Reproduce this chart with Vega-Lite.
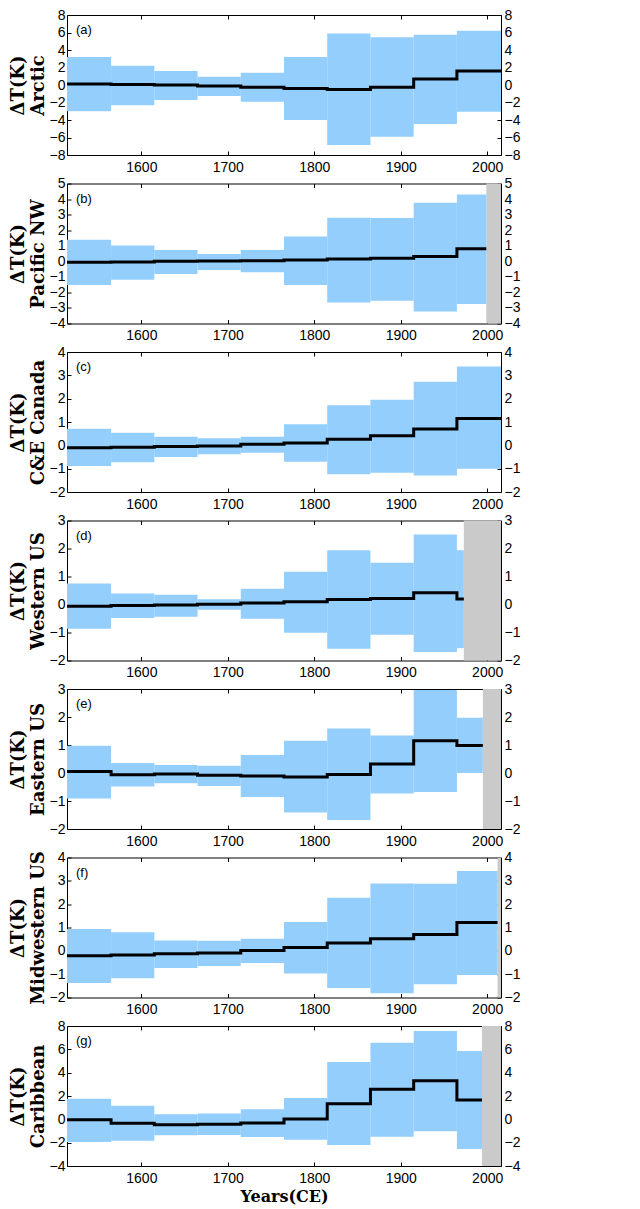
{
  "$schema": "https://vega.github.io/schema/vega-lite/v6.json",
  "padding": {"left": 9, "top": 8, "right": 5, "bottom": 2},
  "background": "white",
  "datasets": {
    "bins": [
      {"p":"a","s":1514,"e":1565,"lo":-3.0,"hi":3.2,"m":0.12},
      {"p":"a","s":1565,"e":1615,"lo":-2.3,"hi":2.2,"m":0.05},
      {"p":"a","s":1615,"e":1665,"lo":-1.7,"hi":1.6,"m":0.0},
      {"p":"a","s":1665,"e":1715,"lo":-1.25,"hi":0.95,"m":-0.1},
      {"p":"a","s":1715,"e":1765,"lo":-1.9,"hi":1.4,"m":-0.25},
      {"p":"a","s":1765,"e":1815,"lo":-4.0,"hi":3.2,"m":-0.4},
      {"p":"a","s":1815,"e":1865,"lo":-6.85,"hi":5.9,"m":-0.5},
      {"p":"a","s":1865,"e":1915,"lo":-5.9,"hi":5.45,"m":-0.25},
      {"p":"a","s":1915,"e":1965,"lo":-4.45,"hi":5.75,"m":0.7},
      {"p":"a","s":1965,"e":2016,"lo":-3.05,"hi":6.2,"m":1.6},
      {"p":"b","s":1514,"e":1565,"lo":-1.53,"hi":1.38,"m":-0.06},
      {"p":"b","s":1565,"e":1615,"lo":-1.19,"hi":1.01,"m":-0.04},
      {"p":"b","s":1615,"e":1665,"lo":-0.82,"hi":0.73,"m":0.0},
      {"p":"b","s":1665,"e":1715,"lo":-0.56,"hi":0.47,"m":0.02},
      {"p":"b","s":1715,"e":1765,"lo":-0.71,"hi":0.73,"m":0.04},
      {"p":"b","s":1765,"e":1815,"lo":-1.53,"hi":1.6,"m":0.08},
      {"p":"b","s":1815,"e":1865,"lo":-2.65,"hi":2.8,"m":0.15},
      {"p":"b","s":1865,"e":1915,"lo":-2.54,"hi":2.78,"m":0.19},
      {"p":"b","s":1915,"e":1965,"lo":-3.23,"hi":3.77,"m":0.3},
      {"p":"b","s":1965,"e":1999,"lo":-2.74,"hi":4.29,"m":0.8},
      {"p":"c","s":1514,"e":1565,"lo":-0.89,"hi":0.71,"m":-0.1},
      {"p":"c","s":1565,"e":1615,"lo":-0.72,"hi":0.54,"m":-0.08},
      {"p":"c","s":1615,"e":1665,"lo":-0.5,"hi":0.37,"m":-0.05},
      {"p":"c","s":1665,"e":1715,"lo":-0.38,"hi":0.3,"m":-0.03},
      {"p":"c","s":1715,"e":1765,"lo":-0.32,"hi":0.37,"m":0.05},
      {"p":"c","s":1765,"e":1815,"lo":-0.7,"hi":0.9,"m":0.1},
      {"p":"c","s":1815,"e":1865,"lo":-1.24,"hi":1.72,"m":0.26},
      {"p":"c","s":1865,"e":1915,"lo":-1.18,"hi":1.95,"m":0.41},
      {"p":"c","s":1915,"e":1965,"lo":-1.29,"hi":2.72,"m":0.7},
      {"p":"c","s":1965,"e":2016,"lo":-1.0,"hi":3.38,"m":1.15},
      {"p":"d","s":1514,"e":1565,"lo":-0.87,"hi":0.75,"m":-0.06},
      {"p":"d","s":1565,"e":1615,"lo":-0.48,"hi":0.39,"m":-0.04},
      {"p":"d","s":1615,"e":1665,"lo":-0.44,"hi":0.35,"m":-0.02},
      {"p":"d","s":1665,"e":1715,"lo":-0.19,"hi":0.19,"m":0.01},
      {"p":"d","s":1715,"e":1765,"lo":-0.51,"hi":0.56,"m":0.05},
      {"p":"d","s":1765,"e":1815,"lo":-1.01,"hi":1.17,"m":0.1},
      {"p":"d","s":1815,"e":1865,"lo":-1.58,"hi":1.94,"m":0.18},
      {"p":"d","s":1865,"e":1915,"lo":-1.08,"hi":1.49,"m":0.21},
      {"p":"d","s":1915,"e":1965,"lo":-1.7,"hi":2.5,"m":0.42},
      {"p":"d","s":1965,"e":1973,"lo":-1.56,"hi":1.94,"m":0.2},
      {"p":"e","s":1514,"e":1565,"lo":-0.91,"hi":0.97,"m":0.05},
      {"p":"e","s":1565,"e":1615,"lo":-0.48,"hi":0.36,"m":-0.06},
      {"p":"e","s":1615,"e":1665,"lo":-0.37,"hi":0.29,"m":-0.04},
      {"p":"e","s":1665,"e":1715,"lo":-0.46,"hi":0.26,"m":-0.08},
      {"p":"e","s":1715,"e":1765,"lo":-0.86,"hi":0.64,"m":-0.11},
      {"p":"e","s":1765,"e":1815,"lo":-1.41,"hi":1.15,"m":-0.14},
      {"p":"e","s":1815,"e":1865,"lo":-1.68,"hi":1.59,"m":-0.05},
      {"p":"e","s":1865,"e":1915,"lo":-0.73,"hi":1.34,"m":0.32},
      {"p":"e","s":1915,"e":1965,"lo":-0.68,"hi":2.96,"m":1.15},
      {"p":"e","s":1965,"e":1995,"lo":0.0,"hi":1.97,"m":0.98},
      {"p":"f","s":1514,"e":1565,"lo":-1.38,"hi":0.94,"m":-0.21},
      {"p":"f","s":1565,"e":1615,"lo":-1.17,"hi":0.8,"m":-0.18},
      {"p":"f","s":1615,"e":1665,"lo":-0.74,"hi":0.44,"m":-0.13},
      {"p":"f","s":1665,"e":1715,"lo":-0.65,"hi":0.43,"m":-0.09},
      {"p":"f","s":1715,"e":1765,"lo":-0.52,"hi":0.52,"m":0.01},
      {"p":"f","s":1765,"e":1815,"lo":-0.97,"hi":1.24,"m":0.14},
      {"p":"f","s":1815,"e":1865,"lo":-1.59,"hi":2.28,"m":0.34},
      {"p":"f","s":1865,"e":1915,"lo":-1.82,"hi":2.89,"m":0.52},
      {"p":"f","s":1915,"e":1965,"lo":-1.43,"hi":2.87,"m":0.7},
      {"p":"f","s":1965,"e":2012,"lo":-1.04,"hi":3.42,"m":1.21},
      {"p":"g","s":1514,"e":1565,"lo":-1.94,"hi":1.77,"m":-0.03},
      {"p":"g","s":1565,"e":1615,"lo":-1.83,"hi":1.17,"m":-0.34},
      {"p":"g","s":1615,"e":1665,"lo":-1.37,"hi":0.43,"m":-0.46},
      {"p":"g","s":1665,"e":1715,"lo":-1.34,"hi":0.49,"m":-0.43},
      {"p":"g","s":1715,"e":1765,"lo":-1.51,"hi":0.86,"m":-0.31},
      {"p":"g","s":1765,"e":1815,"lo":-1.74,"hi":1.83,"m":0.03},
      {"p":"g","s":1815,"e":1865,"lo":-2.2,"hi":4.91,"m":1.34},
      {"p":"g","s":1865,"e":1915,"lo":-1.49,"hi":6.57,"m":2.57},
      {"p":"g","s":1915,"e":1965,"lo":-1.03,"hi":7.57,"m":3.31},
      {"p":"g","s":1965,"e":1994,"lo":-2.54,"hi":5.86,"m":1.66}
    ],
    "grey": [
      {"p":"b","g":1999},
      {"p":"d","g":1973},
      {"p":"e","g":1995},
      {"p":"f","g":2012},
      {"p":"g","g":1994}
    ]
  },
  "vconcat": [
    {
      "width": 434, "height": 140,
      "layer": [
        {"data": {"name": "bins"}, "transform": [{"filter": "datum.p === 'a'"}],
         "mark": {"type": "rect", "color": "#93cefc"},
         "encoding": {
           "x": {"field": "s", "type": "quantitative", "scale": {"domain": [1514, 2016], "nice": false, "zero": false}, "axis": {"orient": "bottom", "values": [1600,1700,1800,1900,2000], "format": "d", "title": null, "labelPadding": 9}},
           "x2": {"field": "e"},
           "y": {"field": "lo", "type": "quantitative", "scale": {"domain": [-8, 8], "nice": false, "zero": false}, "axis": {"orient": "left", "values": [-8,-6,-4,-2,0,2,4,6,8], "title": ["ΔT(K)", "Arctic"]}},
           "y2": {"field": "hi"}}},
        {"data": {"name": "bins"}, "transform": [{"filter": "datum.p === 'a'"}, {"fold": ["s","e"], "as": ["k","yr"]}],
         "mark": {"type": "line", "color": "black", "strokeWidth": 3},
         "encoding": {
           "x": {"field": "yr", "type": "quantitative", "scale": {"domain": [1514, 2016], "nice": false, "zero": false}, "axis": {"orient": "top", "values": [1600,1700,1800,1900,2000], "labels": false, "title": null}},
           "y": {"field": "m", "type": "quantitative", "scale": {"domain": [-8, 8], "nice": false, "zero": false}, "axis": {"orient": "right", "values": [-8,-6,-4,-2,0,2,4,6,8], "title": null, "labelPadding": 7}},
           "order": [{"field": "s"}, {"field": "k", "sort": "descending"}]}},
        {"data": {"values": [{}]},
         "mark": {"type": "text", "align": "left", "baseline": "top", "dx": 9, "dy": 9, "fontSize": 13, "font": "Liberation Sans"},
         "encoding": {"x": {"datum": 1514, "type": "quantitative", "scale": {"domain": [1514, 2016], "nice": false, "zero": false}, "axis": null}, "y": {"datum": 8, "type": "quantitative", "scale": {"domain": [-8, 8], "nice": false, "zero": false}, "axis": null}, "text": {"value": "(a)"}}}
      ],
      "resolve": {"axis": {"x": "independent", "y": "independent"}}
    },
    {
      "width": 434, "height": 140,
      "layer": [
        {"data": {"name": "grey"}, "transform": [{"filter": "datum.p === 'b'"}],
         "mark": {"type": "rect", "color": "#cacaca"},
         "encoding": {
           "x": {"field": "g", "type": "quantitative", "scale": {"domain": [1514, 2016], "nice": false, "zero": false}, "axis": null},
           "x2": {"datum": 2016},
           "y": {"datum": -4, "type": "quantitative", "scale": {"domain": [-4, 5], "nice": false, "zero": false}, "axis": null},
           "y2": {"datum": 5}}},
        {"data": {"name": "bins"}, "transform": [{"filter": "datum.p === 'b'"}],
         "mark": {"type": "rect", "color": "#93cefc"},
         "encoding": {
           "x": {"field": "s", "type": "quantitative", "scale": {"domain": [1514, 2016], "nice": false, "zero": false}, "axis": {"orient": "bottom", "values": [1600,1700,1800,1900,2000], "format": "d", "title": null, "labelPadding": 9}},
           "x2": {"field": "e"},
           "y": {"field": "lo", "type": "quantitative", "scale": {"domain": [-4, 5], "nice": false, "zero": false}, "axis": {"orient": "left", "values": [-4,-3,-2,-1,0,1,2,3,4,5], "title": ["ΔT(K)", "Pacific NW"]}},
           "y2": {"field": "hi"}}},
        {"data": {"name": "bins"}, "transform": [{"filter": "datum.p === 'b'"}, {"fold": ["s","e"], "as": ["k","yr"]}],
         "mark": {"type": "line", "color": "black", "strokeWidth": 3},
         "encoding": {
           "x": {"field": "yr", "type": "quantitative", "scale": {"domain": [1514, 2016], "nice": false, "zero": false}, "axis": {"orient": "top", "values": [1600,1700,1800,1900,2000], "labels": false, "title": null}},
           "y": {"field": "m", "type": "quantitative", "scale": {"domain": [-4, 5], "nice": false, "zero": false}, "axis": {"orient": "right", "values": [-4,-3,-2,-1,0,1,2,3,4,5], "title": null, "labelPadding": 7}},
           "order": [{"field": "s"}, {"field": "k", "sort": "descending"}]}},
        {"data": {"values": [{}]},
         "mark": {"type": "text", "align": "left", "baseline": "top", "dx": 9, "dy": 9, "fontSize": 13, "font": "Liberation Sans"},
         "encoding": {"x": {"datum": 1514, "type": "quantitative", "scale": {"domain": [1514, 2016], "nice": false, "zero": false}, "axis": null}, "y": {"datum": 5, "type": "quantitative", "scale": {"domain": [-4, 5], "nice": false, "zero": false}, "axis": null}, "text": {"value": "(b)"}}}
      ],
      "resolve": {"axis": {"x": "independent", "y": "independent"}}
    },
    {
      "width": 434, "height": 140,
      "layer": [
        {"data": {"name": "bins"}, "transform": [{"filter": "datum.p === 'c'"}],
         "mark": {"type": "rect", "color": "#93cefc"},
         "encoding": {
           "x": {"field": "s", "type": "quantitative", "scale": {"domain": [1514, 2016], "nice": false, "zero": false}, "axis": {"orient": "bottom", "values": [1600,1700,1800,1900,2000], "format": "d", "title": null, "labelPadding": 9}},
           "x2": {"field": "e"},
           "y": {"field": "lo", "type": "quantitative", "scale": {"domain": [-2, 4], "nice": false, "zero": false}, "axis": {"orient": "left", "values": [-2,-1,0,1,2,3,4], "title": ["ΔT(K)", "C&E Canada"]}},
           "y2": {"field": "hi"}}},
        {"data": {"name": "bins"}, "transform": [{"filter": "datum.p === 'c'"}, {"fold": ["s","e"], "as": ["k","yr"]}],
         "mark": {"type": "line", "color": "black", "strokeWidth": 3},
         "encoding": {
           "x": {"field": "yr", "type": "quantitative", "scale": {"domain": [1514, 2016], "nice": false, "zero": false}, "axis": {"orient": "top", "values": [1600,1700,1800,1900,2000], "labels": false, "title": null}},
           "y": {"field": "m", "type": "quantitative", "scale": {"domain": [-2, 4], "nice": false, "zero": false}, "axis": {"orient": "right", "values": [-2,-1,0,1,2,3,4], "title": null, "labelPadding": 7}},
           "order": [{"field": "s"}, {"field": "k", "sort": "descending"}]}},
        {"data": {"values": [{}]},
         "mark": {"type": "text", "align": "left", "baseline": "top", "dx": 9, "dy": 9, "fontSize": 13, "font": "Liberation Sans"},
         "encoding": {"x": {"datum": 1514, "type": "quantitative", "scale": {"domain": [1514, 2016], "nice": false, "zero": false}, "axis": null}, "y": {"datum": 4, "type": "quantitative", "scale": {"domain": [-2, 4], "nice": false, "zero": false}, "axis": null}, "text": {"value": "(c)"}}}
      ],
      "resolve": {"axis": {"x": "independent", "y": "independent"}}
    },
    {
      "width": 434, "height": 140,
      "layer": [
        {"data": {"name": "grey"}, "transform": [{"filter": "datum.p === 'd'"}],
         "mark": {"type": "rect", "color": "#cacaca"},
         "encoding": {
           "x": {"field": "g", "type": "quantitative", "scale": {"domain": [1514, 2016], "nice": false, "zero": false}, "axis": null},
           "x2": {"datum": 2016},
           "y": {"datum": -2, "type": "quantitative", "scale": {"domain": [-2, 3], "nice": false, "zero": false}, "axis": null},
           "y2": {"datum": 3}}},
        {"data": {"name": "bins"}, "transform": [{"filter": "datum.p === 'd'"}],
         "mark": {"type": "rect", "color": "#93cefc"},
         "encoding": {
           "x": {"field": "s", "type": "quantitative", "scale": {"domain": [1514, 2016], "nice": false, "zero": false}, "axis": {"orient": "bottom", "values": [1600,1700,1800,1900,2000], "format": "d", "title": null, "labelPadding": 9}},
           "x2": {"field": "e"},
           "y": {"field": "lo", "type": "quantitative", "scale": {"domain": [-2, 3], "nice": false, "zero": false}, "axis": {"orient": "left", "values": [-2,-1,0,1,2,3], "title": ["ΔT(K)", "Western US"]}},
           "y2": {"field": "hi"}}},
        {"data": {"name": "bins"}, "transform": [{"filter": "datum.p === 'd'"}, {"fold": ["s","e"], "as": ["k","yr"]}],
         "mark": {"type": "line", "color": "black", "strokeWidth": 3},
         "encoding": {
           "x": {"field": "yr", "type": "quantitative", "scale": {"domain": [1514, 2016], "nice": false, "zero": false}, "axis": {"orient": "top", "values": [1600,1700,1800,1900,2000], "labels": false, "title": null}},
           "y": {"field": "m", "type": "quantitative", "scale": {"domain": [-2, 3], "nice": false, "zero": false}, "axis": {"orient": "right", "values": [-2,-1,0,1,2,3], "title": null, "labelPadding": 7}},
           "order": [{"field": "s"}, {"field": "k", "sort": "descending"}]}},
        {"data": {"values": [{}]},
         "mark": {"type": "text", "align": "left", "baseline": "top", "dx": 9, "dy": 9, "fontSize": 13, "font": "Liberation Sans"},
         "encoding": {"x": {"datum": 1514, "type": "quantitative", "scale": {"domain": [1514, 2016], "nice": false, "zero": false}, "axis": null}, "y": {"datum": 3, "type": "quantitative", "scale": {"domain": [-2, 3], "nice": false, "zero": false}, "axis": null}, "text": {"value": "(d)"}}}
      ],
      "resolve": {"axis": {"x": "independent", "y": "independent"}}
    },
    {
      "width": 434, "height": 140,
      "layer": [
        {"data": {"name": "grey"}, "transform": [{"filter": "datum.p === 'e'"}],
         "mark": {"type": "rect", "color": "#cacaca"},
         "encoding": {
           "x": {"field": "g", "type": "quantitative", "scale": {"domain": [1514, 2016], "nice": false, "zero": false}, "axis": null},
           "x2": {"datum": 2016},
           "y": {"datum": -2, "type": "quantitative", "scale": {"domain": [-2, 3], "nice": false, "zero": false}, "axis": null},
           "y2": {"datum": 3}}},
        {"data": {"name": "bins"}, "transform": [{"filter": "datum.p === 'e'"}],
         "mark": {"type": "rect", "color": "#93cefc"},
         "encoding": {
           "x": {"field": "s", "type": "quantitative", "scale": {"domain": [1514, 2016], "nice": false, "zero": false}, "axis": {"orient": "bottom", "values": [1600,1700,1800,1900,2000], "format": "d", "title": null, "labelPadding": 9}},
           "x2": {"field": "e"},
           "y": {"field": "lo", "type": "quantitative", "scale": {"domain": [-2, 3], "nice": false, "zero": false}, "axis": {"orient": "left", "values": [-2,-1,0,1,2,3], "title": ["ΔT(K)", "Eastern US"]}},
           "y2": {"field": "hi"}}},
        {"data": {"name": "bins"}, "transform": [{"filter": "datum.p === 'e'"}, {"fold": ["s","e"], "as": ["k","yr"]}],
         "mark": {"type": "line", "color": "black", "strokeWidth": 3},
         "encoding": {
           "x": {"field": "yr", "type": "quantitative", "scale": {"domain": [1514, 2016], "nice": false, "zero": false}, "axis": {"orient": "top", "values": [1600,1700,1800,1900,2000], "labels": false, "title": null}},
           "y": {"field": "m", "type": "quantitative", "scale": {"domain": [-2, 3], "nice": false, "zero": false}, "axis": {"orient": "right", "values": [-2,-1,0,1,2,3], "title": null, "labelPadding": 7}},
           "order": [{"field": "s"}, {"field": "k", "sort": "descending"}]}},
        {"data": {"values": [{}]},
         "mark": {"type": "text", "align": "left", "baseline": "top", "dx": 9, "dy": 9, "fontSize": 13, "font": "Liberation Sans"},
         "encoding": {"x": {"datum": 1514, "type": "quantitative", "scale": {"domain": [1514, 2016], "nice": false, "zero": false}, "axis": null}, "y": {"datum": 3, "type": "quantitative", "scale": {"domain": [-2, 3], "nice": false, "zero": false}, "axis": null}, "text": {"value": "(e)"}}}
      ],
      "resolve": {"axis": {"x": "independent", "y": "independent"}}
    },
    {
      "width": 434, "height": 140,
      "layer": [
        {"data": {"name": "grey"}, "transform": [{"filter": "datum.p === 'f'"}],
         "mark": {"type": "rect", "color": "#cacaca"},
         "encoding": {
           "x": {"field": "g", "type": "quantitative", "scale": {"domain": [1514, 2016], "nice": false, "zero": false}, "axis": null},
           "x2": {"datum": 2016},
           "y": {"datum": -2, "type": "quantitative", "scale": {"domain": [-2, 4], "nice": false, "zero": false}, "axis": null},
           "y2": {"datum": 4}}},
        {"data": {"name": "bins"}, "transform": [{"filter": "datum.p === 'f'"}],
         "mark": {"type": "rect", "color": "#93cefc"},
         "encoding": {
           "x": {"field": "s", "type": "quantitative", "scale": {"domain": [1514, 2016], "nice": false, "zero": false}, "axis": {"orient": "bottom", "values": [1600,1700,1800,1900,2000], "format": "d", "title": null, "labelPadding": 9}},
           "x2": {"field": "e"},
           "y": {"field": "lo", "type": "quantitative", "scale": {"domain": [-2, 4], "nice": false, "zero": false}, "axis": {"orient": "left", "values": [-2,-1,0,1,2,3,4], "title": ["ΔT(K)", "Midwestern US"]}},
           "y2": {"field": "hi"}}},
        {"data": {"name": "bins"}, "transform": [{"filter": "datum.p === 'f'"}, {"fold": ["s","e"], "as": ["k","yr"]}],
         "mark": {"type": "line", "color": "black", "strokeWidth": 3},
         "encoding": {
           "x": {"field": "yr", "type": "quantitative", "scale": {"domain": [1514, 2016], "nice": false, "zero": false}, "axis": {"orient": "top", "values": [1600,1700,1800,1900,2000], "labels": false, "title": null}},
           "y": {"field": "m", "type": "quantitative", "scale": {"domain": [-2, 4], "nice": false, "zero": false}, "axis": {"orient": "right", "values": [-2,-1,0,1,2,3,4], "title": null, "labelPadding": 7}},
           "order": [{"field": "s"}, {"field": "k", "sort": "descending"}]}},
        {"data": {"values": [{}]},
         "mark": {"type": "text", "align": "left", "baseline": "top", "dx": 9, "dy": 9, "fontSize": 13, "font": "Liberation Sans"},
         "encoding": {"x": {"datum": 1514, "type": "quantitative", "scale": {"domain": [1514, 2016], "nice": false, "zero": false}, "axis": null}, "y": {"datum": 4, "type": "quantitative", "scale": {"domain": [-2, 4], "nice": false, "zero": false}, "axis": null}, "text": {"value": "(f)"}}}
      ],
      "resolve": {"axis": {"x": "independent", "y": "independent"}}
    },
    {
      "width": 434, "height": 140,
      "layer": [
        {"data": {"name": "grey"}, "transform": [{"filter": "datum.p === 'g'"}],
         "mark": {"type": "rect", "color": "#cacaca"},
         "encoding": {
           "x": {"field": "g", "type": "quantitative", "scale": {"domain": [1514, 2016], "nice": false, "zero": false}, "axis": null},
           "x2": {"datum": 2016},
           "y": {"datum": -4, "type": "quantitative", "scale": {"domain": [-4, 8], "nice": false, "zero": false}, "axis": null},
           "y2": {"datum": 8}}},
        {"data": {"name": "bins"}, "transform": [{"filter": "datum.p === 'g'"}],
         "mark": {"type": "rect", "color": "#93cefc"},
         "encoding": {
           "x": {"field": "s", "type": "quantitative", "scale": {"domain": [1514, 2016], "nice": false, "zero": false}, "axis": {"orient": "bottom", "values": [1600,1700,1800,1900,2000], "format": "d", "title": "Years(CE)", "labelPadding": 9, "titleFontSize": 16, "titlePadding": 3}},
           "x2": {"field": "e"},
           "y": {"field": "lo", "type": "quantitative", "scale": {"domain": [-4, 8], "nice": false, "zero": false}, "axis": {"orient": "left", "values": [-4,-2,0,2,4,6,8], "title": ["ΔT(K)", "Caribbean"]}},
           "y2": {"field": "hi"}}},
        {"data": {"name": "bins"}, "transform": [{"filter": "datum.p === 'g'"}, {"fold": ["s","e"], "as": ["k","yr"]}],
         "mark": {"type": "line", "color": "black", "strokeWidth": 3},
         "encoding": {
           "x": {"field": "yr", "type": "quantitative", "scale": {"domain": [1514, 2016], "nice": false, "zero": false}, "axis": {"orient": "top", "values": [1600,1700,1800,1900,2000], "labels": false, "title": null}},
           "y": {"field": "m", "type": "quantitative", "scale": {"domain": [-4, 8], "nice": false, "zero": false}, "axis": {"orient": "right", "values": [-4,-2,0,2,4,6,8], "title": null, "labelPadding": 7}},
           "order": [{"field": "s"}, {"field": "k", "sort": "descending"}]}},
        {"data": {"values": [{}]},
         "mark": {"type": "text", "align": "left", "baseline": "top", "dx": 9, "dy": 9, "fontSize": 13, "font": "Liberation Sans"},
         "encoding": {"x": {"datum": 1514, "type": "quantitative", "scale": {"domain": [1514, 2016], "nice": false, "zero": false}, "axis": null}, "y": {"datum": 8, "type": "quantitative", "scale": {"domain": [-4, 8], "nice": false, "zero": false}, "axis": null}, "text": {"value": "(g)"}}}
      ],
      "resolve": {"axis": {"x": "independent", "y": "independent"}}
    }
  ],
  "spacing": 28.5,
  "bounds": "flush",
  "config": {
    "view": {"stroke": null},
    "axis": {
      "grid": false,
      "domainColor": "black",
      "domainWidth": 1,
      "tickColor": "black",
      "tickSize": -4,
      "tickWidth": 1,
      "labelFont": "Liberation Sans",
      "labelFontSize": 14,
      "labelColor": "black",
      "labelFlush": false,
      "labelOverlap": false,
      "labelPadding": 6,
      "titleFont": "DejaVu Serif",
      "titleFontWeight": "bold",
      "titleFontSize": 18,
      "titleLineHeight": 20,
      "titleColor": "black",
      "titlePadding": 2
    }
  }
}
